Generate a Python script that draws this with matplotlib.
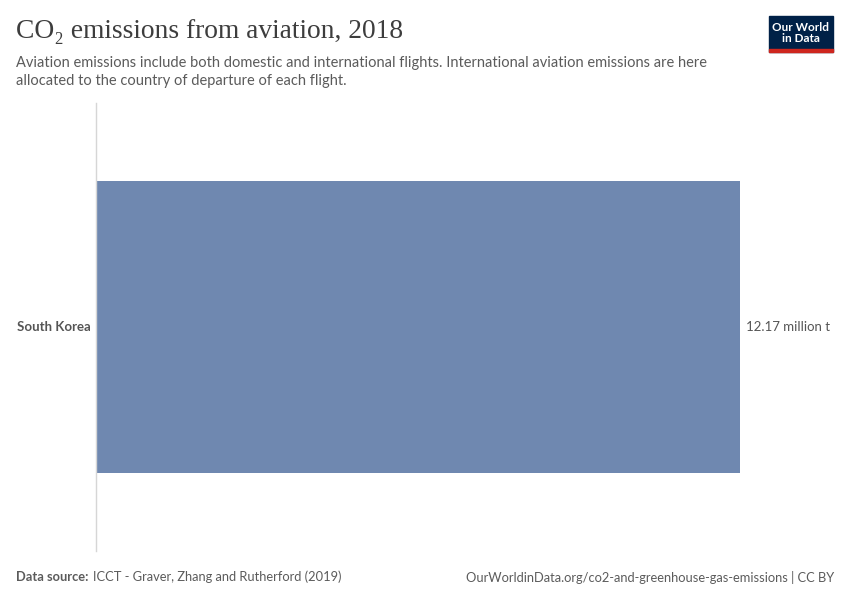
import matplotlib
matplotlib.use("Agg")
from matplotlib import pyplot as plt
from matplotlib.patches import Rectangle

# data
countries = ["South Korea"]
values = [12.17]
value_labels = ["12.17 million t"]

title = "CO\u2082 emissions from aviation, 2018"
subtitle = ("Aviation emissions include both domestic and international flights. International aviation emissions are here\n"
            "allocated to the country of departure of each flight.")
source = "ICCT - Graver, Zhang and Rutherford (2019)"
url = "OurWorldinData.org/co2-and-greenhouse-gas-emissions | CC BY"

plt.rcParams['font.family'] = ['Lato', 'DejaVu Sans']

fig = plt.figure(figsize=(8.5, 6), dpi=100)
W, H = 850, 600

ax = fig.add_axes([96 / W, 1 - 551 / H, (740 - 96) / W, 448 / H])
ax.barh(range(len(countries)), values, height=0.65, color="#6f88b0", zorder=2)
ax.set_xlim(0, max(values))
ax.set_ylim(-0.5, len(countries) - 0.5)
for s in ["top", "right", "bottom"]:
    ax.spines[s].set_visible(False)
ax.spines["left"].set_color("#d6d6d6")
ax.spines["left"].set_linewidth(1)
ax.set_xticks([])
ax.set_yticks([])

for i, (c, v, lab) in enumerate(zip(countries, values, value_labels)):
    ax.annotate(c, xy=(0, i), xytext=(-4, 0), textcoords="offset points",
                ha="right", va="center", fontsize=9.5, fontweight="bold", color="#555555")
    ax.annotate(lab, xy=(v, i), xytext=(4, 0), textcoords="offset points",
                ha="left", va="center", fontsize=9.5, color="#555555", annotation_clip=False)

# title and subtitle
fig.text(16 / W, 1 - 31 / H, title, fontsize=19.8, family=["Liberation Serif", "DejaVu Serif"],
         color="#3d3d3d", va="center", ha="left")
fig.text(16 / W, 1 - 72 / H, subtitle, fontsize=10.5, color="#5b5b5b", va="center", ha="left",
         linespacing=1.35)

# footer
fig.text(16 / W, 1 - 577 / H, "Data source:", fontsize=9.3, fontweight="bold", color="#5b5b5b",
         va="center", ha="left")
fig.text(93 / W, 1 - 577 / H, source, fontsize=9.3, color="#5b5b5b", va="center", ha="left")
fig.text(834 / W, 1 - 577 / H, url, fontsize=9.3, color="#5b5b5b", va="center", ha="right")

# logo
fig.patches.append(Rectangle((769 / W, 1 - 52 / H), 64 / W, 36 / H, transform=fig.transFigure,
                             color="#002147", zorder=1))
fig.patches.append(Rectangle((769 / W, 1 - 52 / H), 64 / W, 3 / H, transform=fig.transFigure,
                             color="#ce261e", zorder=2))
fig.text(801 / W, 1 - 33 / H, "Our World\nin Data", fontsize=8.5, fontweight="bold",
         color="white", ha="center", va="center", linespacing=1.0, zorder=3)

fig.savefig("out.png", dpi=100, facecolor="white")
